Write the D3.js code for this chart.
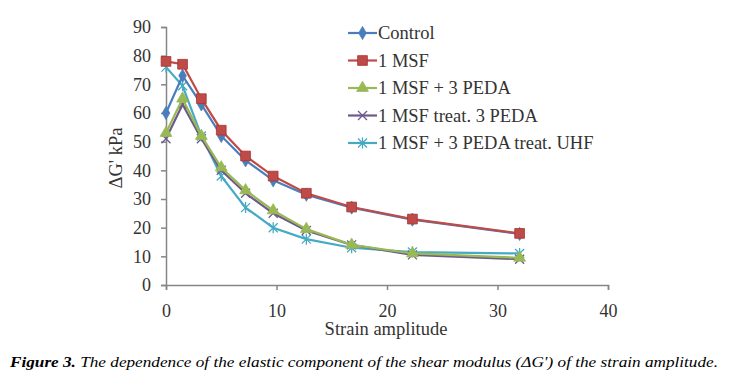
<!DOCTYPE html>
<html>
<head>
<meta charset="utf-8">
<script src="https://cdn.jsdelivr.net/npm/d3@7"></script>
<style>
  body { margin: 0; background: #fff; }
  svg text { font-family: "Liberation Serif", "Times New Roman", Times, serif; }
</style>
</head>
<body>
<div id="canvas"></div>
<script>
// strain amplitude values (x)
const strain = [0, 1.5, 3.2, 5, 7.2, 9.7, 12.7, 16.8, 22.3, 32];

const control   = [60, 73, 63, 52, 43.5, 36.5, 31.5, 27, 22.8, 17.8];
const msf       = [78, 77, 65, 54, 45, 38, 32, 27.2, 23, 18];
const msfPeda   = [53, 65, 52, 41, 33, 26, 19.5, 14, 11, 9.5];
const msfTreat  = [51, 63, 51, 40, 32, 25, 19, 14, 10.5, 9];
const msfUhf    = [76, 69.5, 52, 38, 27, 20, 16, 13, 11.5, 11];

const seriesNames = ["Control", "1 MSF", "1 MSF + 3 PEDA", "1 MSF treat. 3 PEDA", "1 MSF + 3 PEDA treat. UHF"];
const seriesColors = ["#4a7ebb", "#be4b48", "#98b954", "#6f5a8c", "#46aac5"];
const seriesMarkers = ["diamond", "square", "triangle", "cross", "star"];

const xTicks = [0, 10, 20, 30, 40];
const yTicks = [0, 10, 20, 30, 40, 50, 60, 70, 80, 90];

const allSeries = [control, msf, msfPeda, msfTreat, msfUhf];

const width = 729, height = 376;
const svg = d3.select('#canvas').append('svg').attr('width', width).attr('height', height);

const x = d3.scaleLinear().domain([0, 40]).range([166, 608]);
const y = d3.scaleLinear().domain([0, 90]).range([285, 27]);

const axisColor = '#868686';

// y axis
const yAxis = svg.append('g')
    .attr('transform', 'translate(' + x(0) + ',0)')
    .call(d3.axisLeft(y).tickValues(yTicks).tickSize(5).tickPadding(10));
// x axis
const xAxis = svg.append('g')
    .attr('transform', 'translate(0,' + y(0) + ')')
    .call(d3.axisBottom(x).tickValues(xTicks).tickSize(5).tickPadding(14));

[yAxis, xAxis].forEach(function (g) {
  g.attr('font-family', null);
  g.select('.domain').attr('stroke', axisColor).attr('stroke-width', 1.5);
  g.selectAll('.tick line').attr('stroke', axisColor).attr('stroke-width', 1.5);
  g.selectAll('.tick text').attr('fill', '#333').style('font-size', '18px');
});

// axis titles
svg.append('text')
    .attr('x', x(20) - 1).attr('y', 335)
    .attr('text-anchor', 'middle')
    .style('font-size', '18.5px').attr('fill', '#333')
    .text('Strain amplitude');
svg.append('text')
    .attr('transform', 'translate(122,' + (y(45) + 2) + ') rotate(-90)')
    .attr('text-anchor', 'middle')
    .style('font-size', '18.5px').attr('fill', '#333')
    .text('ΔG\' kPa');

const symbolTypes = {
  diamond: d3.symbolDiamond,
  square: d3.symbolSquare,
  triangle: d3.symbolTriangle
};

function drawMarker(g, type, color, cx, cy) {
  if (symbolTypes[type]) {
    const size = type === 'square' ? 95 : type === 'diamond' ? 50 : 60;
    g.append('path')
      .attr('d', d3.symbol().type(symbolTypes[type]).size(size)())
      .attr('transform', 'translate(' + cx + ',' + cy + ')')
      .attr('fill', color).attr('stroke', type === 'square' ? '#a33' : color).attr('stroke-width', 0.8);
  } else {
    const r = 4.5;
    let d = 'M' + (cx - r) + ',' + (cy - r) + 'L' + (cx + r) + ',' + (cy + r) +
            'M' + (cx - r) + ',' + (cy + r) + 'L' + (cx + r) + ',' + (cy - r);
    if (type === 'star') d += 'M' + cx + ',' + (cy - r - 1) + 'L' + cx + ',' + (cy + r + 1);
    g.append('path').attr('d', d).attr('stroke', color).attr('stroke-width', 1.3).attr('fill', 'none');
  }
}

const line = d3.line()
    .x(function (d, i) { return x(strain[i]); })
    .y(function (d) { return y(d); });

// draw order: lower series first so red/blue stay on top
const order = [4, 3, 2, 0, 1];
order.forEach(function (si) {
  const g = svg.append('g');
  g.append('path')
    .datum(allSeries[si])
    .attr('d', line)
    .attr('fill', 'none')
    .attr('stroke', seriesColors[si])
    .attr('stroke-width', 2.2);
  allSeries[si].forEach(function (v, i) {
    drawMarker(g, seriesMarkers[si], seriesColors[si], x(strain[i]), y(v));
  });
});

// legend
const legend = svg.append('g');
seriesNames.forEach(function (name, i) {
  const ly = 33 + i * 27.5;
  legend.append('line')
    .attr('x1', 348).attr('x2', 377).attr('y1', ly).attr('y2', ly)
    .attr('stroke', seriesColors[i]).attr('stroke-width', 2.2);
  drawMarker(legend, seriesMarkers[i], seriesColors[i], 362.5, ly);
  legend.append('text')
    .attr('x', 378).attr('y', ly + 6)
    .style('font-size', '18.5px').attr('fill', '#333')
    .text(name);
});

// caption
const cap = svg.append('text')
    .attr('x', 10).attr('y', 367)
    .style('font-size', '15px').style('font-style', 'italic').attr('fill', '#000')
    .attr('textLength', 708).attr('lengthAdjust', 'spacingAndGlyphs');
cap.append('tspan').style('font-weight', 'bold').text('Figure 3.');
cap.append('tspan').text(' The dependence of the elastic component of the shear modulus (ΔG\') of the strain amplitude.');
</script>
</body>
</html>
